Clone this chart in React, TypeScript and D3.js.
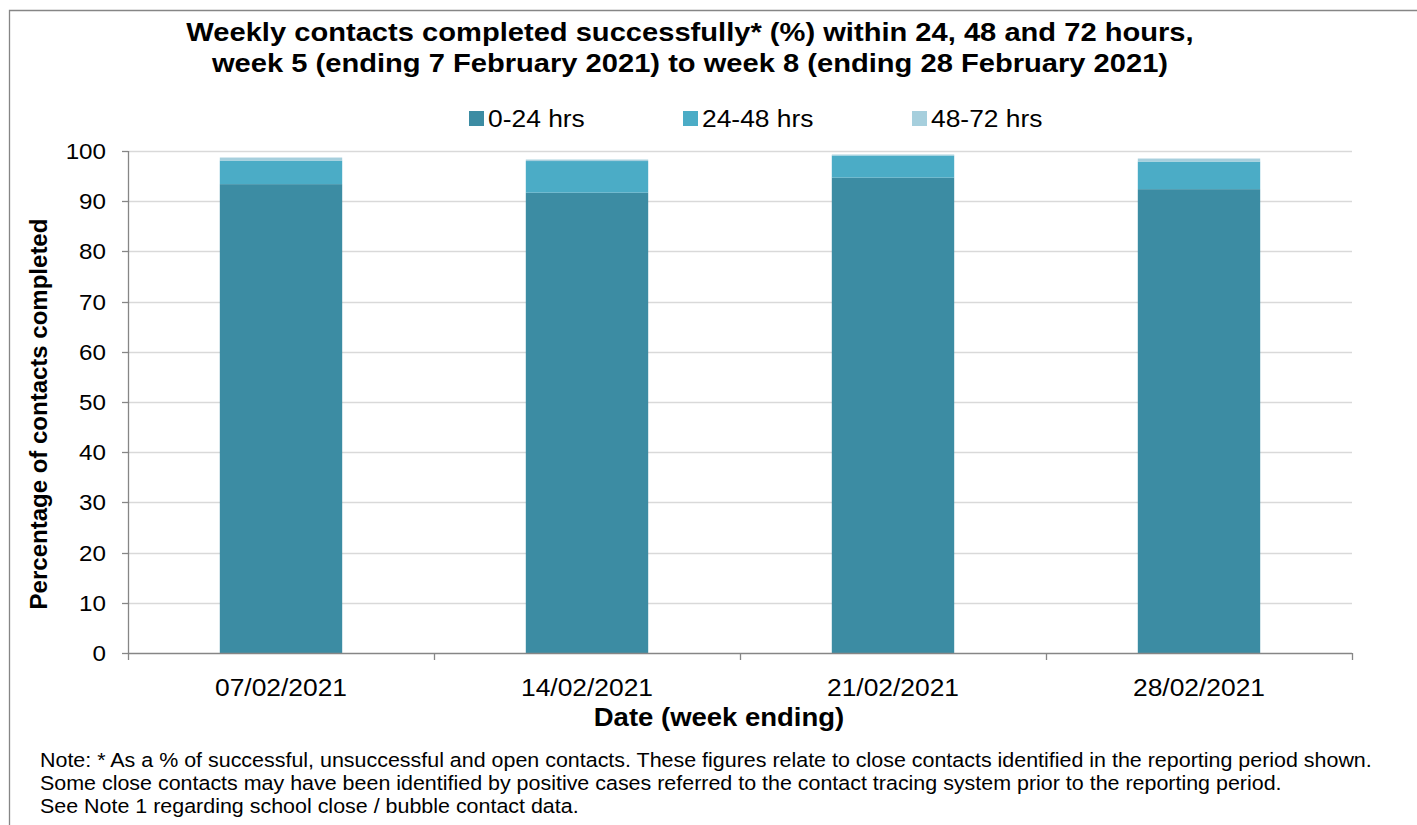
import React from "react";
import * as d3 from "d3";

const categories = ["07/02/2021", "14/02/2021", "21/02/2021", "28/02/2021"];
const seriesNames = ["0-24 hrs", "24-48 hrs", "48-72 hrs"];
const hrs0to24 = [93.4, 91.7, 94.7, 92.4];
const hrs24to48 = [4.7, 6.3, 4.4, 5.5];
const hrs48to72 = [0.6, 0.3, 0.2, 0.6];
const colors = ["#3C8CA3", "#4BACC6", "#A6CFDD"];
const yTicks = [0, 10, 20, 30, 40, 50, 60, 70, 80, 90, 100];
const titleLines = [
  "Weekly contacts completed successfully* (%) within 24, 48 and 72 hours,",
  "week 5 (ending 7 February 2021) to week 8 (ending 28 February 2021)",
];
const noteLines = [
  "Note: * As a % of successful, unsuccessful and open contacts. These figures relate to close contacts identified in the reporting period shown.",
  "Some close contacts may have been identified by positive cases referred to the contact tracing system prior to the reporting period.",
  "See Note 1 regarding school close / bubble contact data.",
];

function sx(cx: number, s = 1.1) {
  return `translate(${cx},0) scale(${s},1) translate(${-cx},0)`;
}

export default function App() {
  const W = 1417, H = 825;
  const left = 128, right = 1352, top = 151, bottom = 653;
  const x = d3.scaleBand<string>().domain(categories).range([left, right]).paddingInner(0.6).paddingOuter(0.3);
  const y = d3.scaleLinear().domain([0, 100]).range([bottom, top]);
  const rows = categories.map((c, i) => ({ cat: c, a: hrs0to24[i], b: hrs24to48[i], c2: hrs48to72[i] }));
  const stack = d3.stack<any>().keys(["a", "b", "c2"])(rows);
  const font = "'Liberation Sans', Arial, sans-serif";
  const step = (right - left) / categories.length;
  const legendX = [469, 683, 912];
  return (
    <div style={{ position: "absolute", left: 0, top: 0 }}>
      <svg width={W} height={H} style={{ display: "block", fontFamily: font }}>
        <rect x={0} y={0} width={W} height={H} fill="#fff" />
        <path d={`M9.5,${H} V10.5 H${W + 5}`} fill="none" stroke="#868686" strokeWidth={1.3} />
        {titleLines.map((t, i) => (
          <text key={i} x={690} y={41 + i * 31} textAnchor="middle" fontWeight="bold" fontSize={26} fill="#000"
            transform={sx(690, 1.12)}>{t}</text>
        ))}
        {seriesNames.map((s, i) => (
          <g key={s}>
            <rect x={legendX[i]} y={111} width={15} height={15} fill={colors[i]} />
            <text x={legendX[i] + 19} y={127} fontSize={24} fill="#000" transform={sx(legendX[i] + 19)}>{s}</text>
          </g>
        ))}
        {yTicks.filter(t => t > 0).map(t => (
          <line key={t} x1={left} x2={right} y1={Math.round(y(t)) + 0.5} y2={Math.round(y(t)) + 0.5} stroke="#D9D9D9" strokeWidth={1.5} />
        ))}
        {stack.map((layer, li) => (
          <g key={li}>
            {layer.map((d: any, i: number) => (
              <rect key={i} x={x(categories[i])!} width={x.bandwidth()} y={y(d[1])} height={y(d[0]) - y(d[1])} fill={colors[li]} />
            ))}
          </g>
        ))}
        <line x1={left + 0.5} x2={left + 0.5} y1={top} y2={bottom} stroke="#868686" strokeWidth={1.3} />
        {yTicks.map(t => (
          <g key={t}>
            <line x1={left - 6} x2={left} y1={Math.round(y(t)) + 0.5} y2={Math.round(y(t)) + 0.5} stroke="#868686" strokeWidth={1.3} />
            <text x={106} y={y(t) + 8} textAnchor="end" fontSize={22} fill="#000" transform={sx(106)}>{t}</text>
          </g>
        ))}
        <line x1={left} x2={right} y1={bottom + 0.5} y2={bottom + 0.5} stroke="#868686" strokeWidth={1.3} />
        {d3.range(categories.length + 1).map(i => (
          <line key={i} x1={Math.round(left + i * step) + 0.5} x2={Math.round(left + i * step) + 0.5} y1={bottom} y2={bottom + 7} stroke="#868686" strokeWidth={1.3} />
        ))}
        {categories.map(c => {
          const cx = x(c)! + x.bandwidth() / 2;
          return (
            <text key={c} x={cx} y={696} textAnchor="middle" fontSize={24} fill="#000" transform={sx(cx)}>{c}</text>
          );
        })}
        <text x={719} y={726} textAnchor="middle" fontWeight="bold" fontSize={25} fill="#000" transform={sx(719)}>Date (week ending)</text>
        <text transform={`translate(47,${(top + bottom) / 2 + 12}) rotate(-90)`} textAnchor="middle" fontWeight="bold" fontSize={24} fill="#000"
          >Percentage of contacts completed</text>
        {noteLines.map((n, i) => (
          <text key={i} x={40} y={767 + i * 23} fontSize={19.5} fill="#000" transform={sx(40)}>{n}</text>
        ))}
      </svg>
    </div>
  );
}
